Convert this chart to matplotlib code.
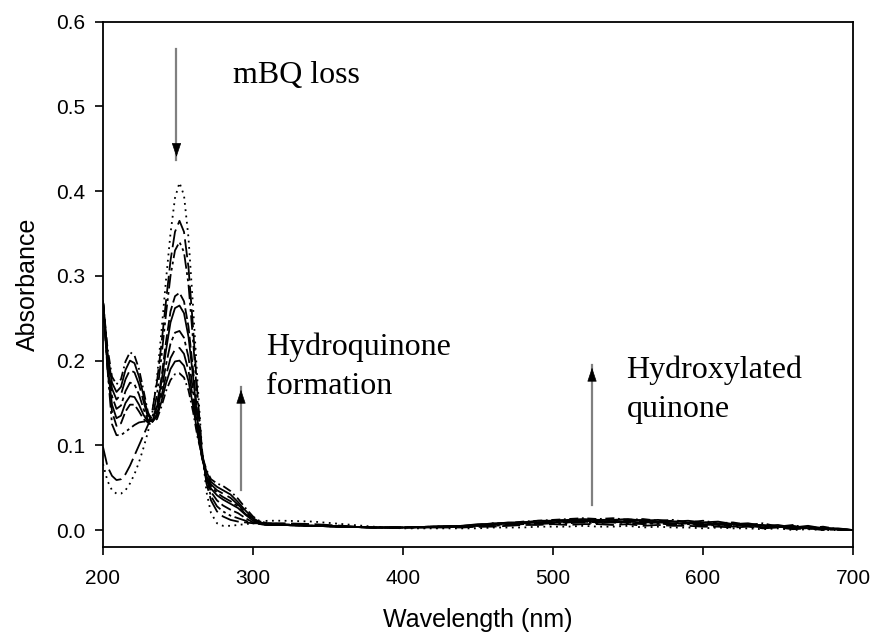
import matplotlib
matplotlib.use("Agg")
from matplotlib import pyplot as plt

# wavelength grid (nm)
wl = [200, 203, 206, 209, 212, 215, 218, 221, 224, 227, 230, 233, 236, 239, 242,
      245, 248, 251, 254, 257, 260, 263, 266, 269, 272, 276, 280, 285, 290, 295,
      300, 305, 310,
      320, 340, 360, 380, 400, 420,
      440, 450, 460, 470, 480, 490, 500, 510, 520, 530, 540, 550, 560, 570, 580,
      590, 600, 610, 620, 630, 640, 650, 660, 670, 680, 690, 700]

# spectra, first scan (highest 250 nm band) to last
scan_a = [.078, .058, .047, .043, .043, .047, .055, .066, .08, .097, .116, .14, .18, .235, .295,
          .35, .392, .41, .395, .345, .265, .175, .095, .045, .02, .008, .005, .005, .006, .007,
          .008, .01, .011,
          .011, .01, .007, .004, .002, .002,
          .002, .002, .003, .003, .003, .004, .004, .004, .005, .004, .004, .005, .003, .004, .003,
          .003, .002, .003, .002, .002, .001, .002, .000, .001, .000, .000, .000]
scan_b = [.098, .075, .064, .059, .06, .066, .076, .088, .1, .112, .124, .142, .175, .22, .27,
          .318, .352, .365, .352, .31, .24, .16, .095, .055, .035, .022, .016, .012, .01, .009,
          .008, .008, .008,
          .008, .007, .005, .003, .003, .003,
          .003, .004, .004, .005, .006, .006, .007, .006, .007, .007, .006, .007, .005, .006, .005,
          .005, .004, .004, .003, .004, .002, .003, .001, .002, .000, .001, .000]
scan_c = [.27, .19, .125, .112, .112, .116, .12, .124, .127, .128, .128, .133, .16, .205, .255,
          .3, .33, .34, .328, .29, .225, .152, .092, .057, .04, .028, .022, .017, .014, .011,
          .008, .007, .006,
          .006, .005, .004, .003, .003, .003,
          .004, .004, .005, .006, .007, .007, .008, .008, .009, .008, .009, .008, .007, .008, .006,
          .007, .005, .006, .004, .005, .003, .004, .002, .002, .001, .001, .000]
scan_d = [.27, .19, .14, .123, .126, .14, .148, .148, .14, .131, .127, .13, .148, .18, .222,
          .258, .276, .28, .27, .24, .19, .135, .088, .06, .045, .035, .029, .024, .02, .014,
          .009, .007, .006,
          .006, .005, .004, .003, .003, .004,
          .004, .005, .006, .007, .008, .008, .009, .009, .01, .009, .01, .009, .008, .009, .007,
          .008, .006, .007, .005, .006, .004, .004, .003, .002, .002, .000, .000]
scan_e = [.27, .195, .148, .132, .135, .15, .158, .157, .148, .136, .128, .129, .145, .175, .212,
          .245, .262, .265, .256, .228, .182, .13, .087, .061, .049, .041, .036, .031, .026, .018,
          .011, .007, .006,
          .006, .005, .004, .003, .003, .004,
          .004, .005, .006, .008, .008, .009, .009, .01, .01, .011, .009, .01, .009, .009, .008,
          .008, .007, .006, .007, .005, .005, .004, .002, .004, .001, .001, .000]
scan_f = [.27, .2, .158, .143, .147, .164, .174, .172, .16, .143, .13, .128, .14, .165, .195,
          .22, .233, .235, .227, .204, .165, .122, .085, .064, .052, .044, .039, .034, .028, .019,
          .012, .008, .006,
          .006, .005, .004, .003, .003, .004,
          .004, .006, .007, .008, .009, .009, .01, .011, .011, .01, .011, .01, .01, .009, .01,
          .008, .008, .007, .006, .007, .005, .004, .004, .003, .002, .001, .000]
scan_g = [.27, .205, .167, .154, .16, .178, .189, .186, .172, .152, .133, .128, .137, .158, .182,
          .203, .213, .215, .208, .188, .155, .118, .086, .066, .054, .047, .043, .038, .03, .021,
          .013, .008, .007,
          .006, .005, .004, .003, .003, .004,
          .005, .006, .008, .008, .009, .01, .011, .012, .011, .012, .012, .011, .012, .01, .011,
          .009, .009, .007, .008, .006, .006, .004, .005, .002, .003, .001, .000]
scan_h = [.27, .21, .174, .163, .169, .189, .2, .197, .181, .159, .136, .128, .134, .152, .173,
          .19, .199, .2, .194, .176, .147, .114, .087, .069, .057, .051, .047, .042, .033, .023,
          .014, .009, .007,
          .006, .005, .004, .003, .003, .004,
          .005, .007, .007, .009, .009, .011, .011, .012, .013, .012, .012, .013, .011, .012, .01,
          .011, .009, .01, .007, .008, .005, .006, .003, .005, .002, .002, .000]
scan_i = [.27, .215, .181, .172, .178, .199, .21, .206, .19, .165, .139, .128, .131, .146, .164,
          .177, .184, .185, .18, .165, .14, .11, .088, .071, .06, .055, .052, .046, .037, .026,
          .016, .01, .008,
          .007, .005, .004, .003, .003, .004,
          .005, .006, .008, .008, .01, .011, .012, .013, .014, .013, .014, .012, .013, .011, .012,
          .009, .011, .008, .009, .006, .008, .004, .006, .002, .004, .001, .000]

scans = [scan_a, scan_b, scan_c, scan_d, scan_e, scan_f, scan_g, scan_h, scan_i]
styles = [(0, (1, 2.5)), (0, (10, 3)), (0, (8, 2, 1.5, 2, 1.5, 2)), (0, (6, 2)), "-",
          (0, (8, 2, 2, 2)), (0, (12, 3)), "-", (0, (5, 2, 1, 2))]

plt.rcParams["font.family"] = ["Liberation Sans", "DejaVu Sans"]

fig = plt.figure(figsize=(8.75, 6.37), dpi=100)
ax = fig.add_axes([0.1177, 0.1413, 0.8572, 0.8246])

for y, ls in zip(scans, styles):
    ax.plot(wl, y, color="black", linestyle=ls, lw=1.3)

ax.set_xlim(200, 700)
ax.set_ylim(-0.02, 0.6)
ax.set_xticks([200, 300, 400, 500, 600, 700])
ax.set_yticks([0.0, 0.1, 0.2, 0.3, 0.4, 0.5, 0.6])
ax.set_yticklabels(["0.0", "0.1", "0.2", "0.3", "0.4", "0.5", "0.6"])
ax.tick_params(direction="out", length=6, width=1.2, labelsize=15)
ax.tick_params(axis="x", pad=10)
ax.tick_params(axis="y", pad=7)
ax.tick_params(top=False, right=False)
for s in ax.spines.values():
    s.set_linewidth(1.3)

ax.set_xlabel("Wavelength (nm)", fontsize=18, labelpad=14)
ax.set_ylabel("Absorbance", fontsize=18, labelpad=11)


def arrow(x, y0, y1):
    # grey shaft, black head
    ax.plot([x, x], [y0, y1], color="#808080", lw=1.6)
    d = 0.012 if y1 > y0 else -0.012
    ax.annotate("", xy=(x, y1), xytext=(x, y1 - d),
                arrowprops=dict(arrowstyle="-|>,head_width=0.3,head_length=0.9",
                                color="black", lw=0.5))


arrow(249, 0.568, 0.437)
arrow(292, 0.047, 0.169)
arrow(526, 0.029, 0.195)

serif = ["Liberation Serif", "DejaVu Serif"]
ax.text(287, 0.537, "mBQ loss", fontsize=23, family=serif, va="center")
ax.text(309, 0.216, "Hydroquinone", fontsize=23, family=serif, va="center")
ax.text(309, 0.169, "formation", fontsize=23, family=serif, va="center")
ax.text(549, 0.189, "Hydroxylated", fontsize=23, family=serif, va="center")
ax.text(549, 0.142, "quinone", fontsize=23, family=serif, va="center")

fig.savefig("out.png", dpi=100)
